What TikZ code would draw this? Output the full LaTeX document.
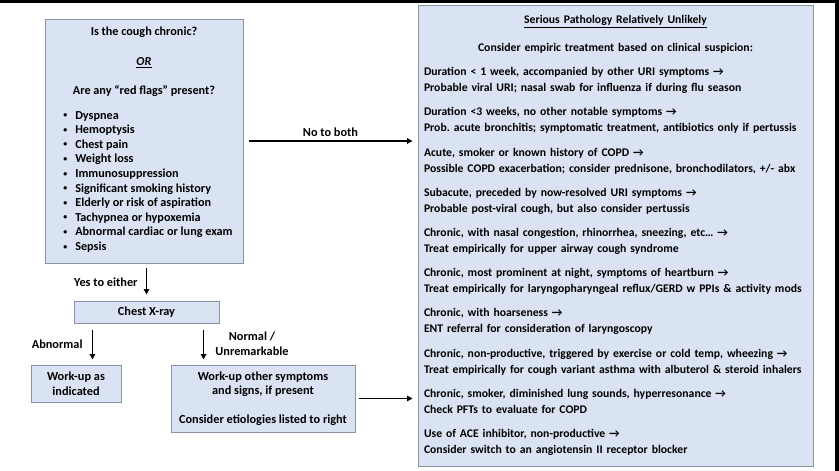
\documentclass[tikz,border=0pt]{standalone}
\usepackage{fontspec}
\setmainfont{Carlito}
\usepackage{tikz}
\usetikzlibrary{arrows.meta}

\definecolor{boxblue}{RGB}{218,227,243}
\definecolor{boxline}{RGB}{140,146,158}
\newcommand{\flag}{\raisebox{1.5pt}{\scalebox{0.65}{\textbullet}}}

\begin{document}
\frenchspacing
\begin{tikzpicture}[x=1pt, y=-1pt, >={Triangle[length=5.5pt,width=5.5pt]},
	every node/.style={font=\bfseries\fontsize{12.3}{14.6}\selectfont},
	box/.style={draw=boxline, fill=boxblue, line width=1pt},
	flow/.style={->, line width=1.2pt, shorten <=5pt, shorten >=5pt}]
	\useasboundingbox (0,0) rectangle (839,471);
	\fill [black] (0,0) rectangle (839,3);
	\fill [black] (835,0) rectangle (839,471);

	% left column
	\node [box, minimum width=198pt, minimum height=244pt, align=center,
		font=\bfseries\fontsize{12.2}{14.6}\selectfont] (question) at (144,141) {Is the cough chronic?\\[15pt]
		\underline{\itshape OR}\\[15pt]
		Are any “red flags” present?\\[11pt]
		\hspace*{8pt}\begin{tabular}{@{}l@{\hspace{8pt}}l@{}}
		\flag & Dyspnea\\
		\flag & Hemoptysis\\
		\flag & Chest pain\\
		\flag & Weight loss\\
		\flag & Immunosuppression\\
		\flag & Significant smoking history\\
		\flag & Elderly or risk of aspiration\\
		\flag & Tachypnea or hypoxemia\\
		\flag & Abnormal cardiac or lung exam\\
		\flag & Sepsis
		\end{tabular}};
	\node [box, minimum width=145pt, minimum height=22pt] (xray) at (146.5,312) {Chest X-ray};
	\node [box, minimum width=90pt, minimum height=37pt, align=center] (known) at (76,383.5) {Work-up as\\indicated};
	\node [box, minimum width=184pt, minimum height=67pt, align=center] (other) at (263,398.5) {Work-up other symptoms\\and signs, if present\\[14pt]Consider etiologies listed to right};

	% right column
	\node [box, minimum width=395pt, minimum height=461pt, text width=383pt, inner xsep=6pt, align=left,
		font=\bfseries\fontsize{11.7}{16}\selectfont] (empiric) at (615.5,235.5) {%
		\makebox[383pt]{\underline{Serious Pathology Relatively Unlikely}}\\[12pt]
		\makebox[383pt]{Consider empiric treatment based on clinical suspicion:}\\[8pt]
		Duration < 1 week, accompanied by other URI symptoms →\\
		Probable viral URI; nasal swab for influenza if during flu season\\[8.2pt]
		Duration <3 weeks, no other notable symptoms →\\
		Prob. acute bronchitis; symptomatic treatment, antibiotics only if pertussis\\[8.2pt]
		Acute, smoker or known history of COPD →\\
		Possible COPD exacerbation; consider prednisone, bronchodilators, +/- abx\\[8.2pt]
		Subacute, preceded by now-resolved URI symptoms →\\
		Probable post-viral cough, but also consider pertussis\\[8.2pt]
		Chronic, with nasal congestion, rhinorrhea, sneezing, etc… →\\
		Treat empirically for upper airway cough syndrome\\[8.2pt]
		Chronic, most prominent at night, symptoms of heartburn →\\
		Treat empirically for laryngopharyngeal reflux/GERD w PPIs \& activity mods\\[8.2pt]
		Chronic, with hoarseness →\\
		ENT referral for consideration of laryngoscopy\\[8.2pt]
		Chronic, non-productive, triggered by exercise or cold temp, wheezing →\\
		Treat empirically for cough variant asthma with albuterol \& steroid inhalers\\[8.2pt]
		Chronic, smoker, diminished lung sounds, hyperresonance →\\
		Check PFTs to evaluate for COPD\\[8.2pt]
		Use of ACE inhibitor, non-productive →\\
		Consider switch to an angiotensin II receptor blocker\\[14pt]};

	% connectors
	\coordinate (abnormal) at ([xshift=19pt]xray.south west);
	\coordinate (normal) at ([xshift=-16pt]xray.south east);
	\draw [flow] (question.east) -- (question.east -| empiric.west) node [midway, above] {No to both};
	\draw [flow, shorten <=4pt, shorten >=6pt] (question.south -| xray.north) -- (xray.north) node [midway, left=5pt] {Yes to either};
	\draw [flow, shorten <=6pt] (abnormal) -- (abnormal |- known.north) node [midway, left=6pt] {Abnormal};
	\draw [flow, shorten <=6pt] (normal) -- (normal |- other.north) node [midway, right=8pt, align=center] {Normal /\\Unremarkable};
	\draw [flow, shorten <=3pt] (other.east) -- (other.east -| empiric.west);
\end{tikzpicture}
\end{document}
